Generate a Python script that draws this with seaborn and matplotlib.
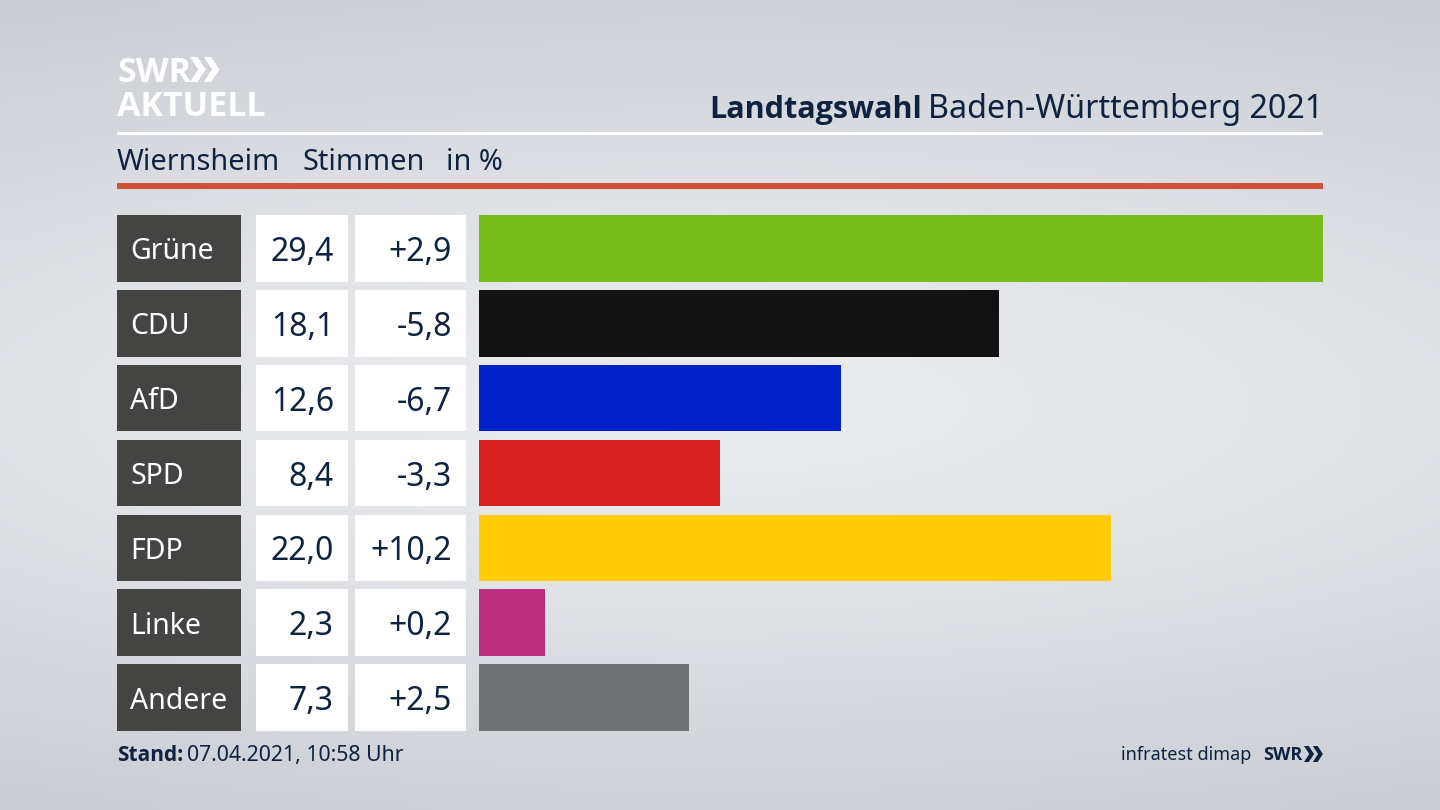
import numpy as np
import pandas as pd
import matplotlib.pyplot as plt
import seaborn as sns
from matplotlib.colors import LinearSegmentedColormap
from matplotlib.patches import Rectangle, Polygon
from matplotlib.transforms import blended_transform_factory

parties = ['Grüne', 'CDU', 'AfD', 'SPD', 'FDP', 'Linke', 'Andere']
votes = [29.4, 18.1, 12.6, 8.4, 22.0, 2.3, 7.3]
changes = ['+2,9', '-5,8', '-6,7', '-3,3', '+10,2', '+0,2', '+2,5']
colors = ['#78bc1b', '#121212', '#0021c8', '#d61f1f', '#ffcc08', '#bc2f7e', '#707173']

NAVY = '#0f2240'
BOLD = 'Open Sans'
W, H = 1440, 810

sns.set_theme(style='white')
plt.rcParams['font.family'] = ['Noto Sans', 'DejaVu Sans']

fig = plt.figure(figsize=(14.4, 8.1), dpi=100)

# Hintergrund und Layout in Pixelkoordinaten
bg = fig.add_axes([0, 0, 1, 1])
yy, xx = np.mgrid[0:1:81j, 0:1:144j]
dist = np.sqrt(((xx - 0.5) / 1.1) ** 2 + ((yy - 0.5) / 0.55) ** 2)
shade = np.clip(dist, 0, 1) ** 1.3
bg_cmap = LinearSegmentedColormap.from_list('bg', ['#ebedf0', '#cacdd3'])
bg.imshow(shade, cmap=bg_cmap, vmin=0, vmax=1, extent=(0, W, H, 0),
          aspect='auto', zorder=0, interpolation='bicubic')
bg.set_xlim(0, W)
bg.set_ylim(H, 0)
bg.axis('off')

# Balken
top, bottom = 210.9, 735.1
left, right = 479, 1323
ax = fig.add_axes([left / W, 1 - bottom / H, (right - left) / W, (bottom - top) / H])
df = pd.DataFrame({'party': parties, 'votes': votes})
sns.barplot(data=df, x='votes', y='party', hue='party', palette=colors, legend=False,
            width=0.89, saturation=1, linewidth=0, ax=ax)
ax.set_xlim(0, 29.4)
ax.set_ylim(6.5, -0.5)
ax.axis('off')

# Tabellenspalten links, x in Pixeln, y in Zeilen
trans = blended_transform_factory(bg.transData, ax.transData)
row_h = 0.89
columns = [(117, 241, '#444442'), (256, 348, 'white'), (355, 466, 'white')]
for i, party in enumerate(parties):
    for x0, x1, col in columns:
        bg.add_patch(Rectangle((x0, i - row_h / 2), x1 - x0, row_h, transform=trans,
                               facecolor=col, edgecolor='none', zorder=2))
    bg.text(130, i, party, transform=trans, color='white', fontsize=20.5,
            ha='left', va='center_baseline', zorder=3)
    bg.text(334, i, f'{votes[i]:.1f}'.replace('.', ','), transform=trans, color=NAVY,
            fontsize=23, ha='right', va='center_baseline', zorder=3)
    bg.text(452, i, changes[i], transform=trans, color=NAVY, fontsize=23,
            ha='right', va='center_baseline', zorder=3)

# Linien
bg.add_patch(Rectangle((117, 132), 1206, 3, facecolor='white', edgecolor='none', zorder=2))
bg.add_patch(Rectangle((117, 183), 1206, 6, facecolor='#cf5236', edgecolor='none', zorder=2))

# Kopfzeile
bg.text(1323, 118, 'Baden-Württemberg 2021', color=NAVY, fontsize=23.2, ha='right', va='baseline', zorder=3)
bg.text(922, 118, 'Landtagswahl', color=NAVY, fontsize=22, family=BOLD, fontweight='bold',
        ha='right', va='baseline', zorder=3)
bg.text(117, 170, 'Wiernsheim', color=NAVY, fontsize=20.8, va='baseline', zorder=3)
bg.text(302, 170, 'Stimmen', color=NAVY, fontsize=20.8, va='baseline', zorder=3)
bg.text(446, 170, 'in %', color=NAVY, fontsize=20.8, va='baseline', zorder=3)


def chevrons(x, y, h, color):
    # Doppelpfeil aus dem SWR-Logo
    t = h * 0.3
    tip = h * 0.33
    for dx in (0, h * 0.55):
        pts = [(x + dx, y), (x + dx + t, y), (x + dx + t + tip, y + h / 2),
               (x + dx + t, y + h), (x + dx, y + h), (x + dx + tip, y + h / 2)]
        bg.add_patch(Polygon(pts, closed=True, facecolor=color, edgecolor='none', zorder=3))


# Logo
bg.text(117, 82.5, 'SWR', color='white', fontsize=24.5, family=BOLD, fontweight='bold', va='baseline', zorder=3)
chevrons(190, 57, 25, 'white')
bg.text(117, 116, 'AKTUELL', color='white', fontsize=24.5, family=BOLD, fontweight='bold', va='baseline', zorder=3)

# Fußzeile
bg.text(117, 761, 'Stand:', color=NAVY, fontsize=15, family=BOLD, fontweight='bold', va='baseline', zorder=3)
bg.text(187, 761, '07.04.2021, 10:58 Uhr', color=NAVY, fontsize=15.3, va='baseline', zorder=3)
bg.text(1251, 760, 'infratest dimap', color=NAVY, fontsize=13, ha='right', va='baseline', zorder=3)
bg.text(1263, 760, 'SWR', color=NAVY, fontsize=13, family=BOLD, fontweight='bold', va='baseline', zorder=3)
chevrons(1304, 746, 16, NAVY)

fig.savefig('out.png', dpi=100)
